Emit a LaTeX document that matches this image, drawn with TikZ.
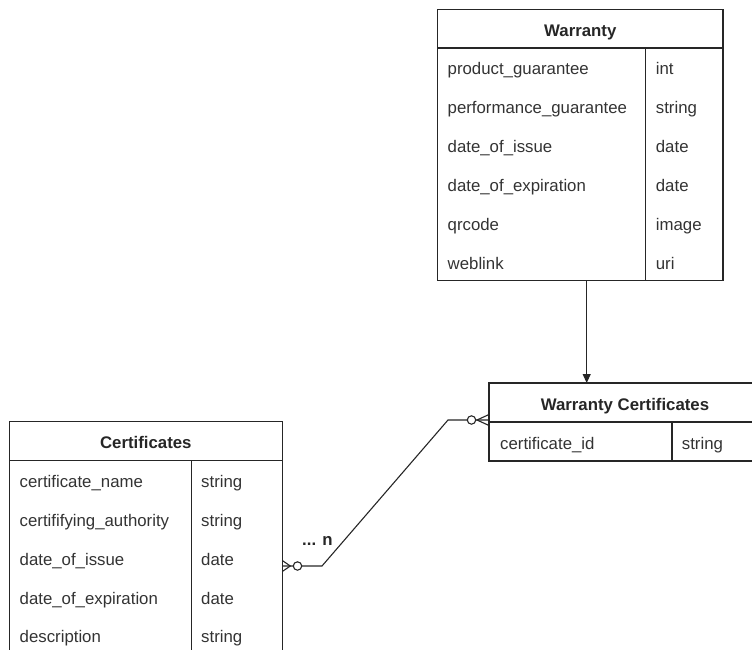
\documentclass[tikz,border=0pt]{standalone}
\usepackage{fontspec}
\setmainfont{Liberation Sans}
\usetikzlibrary{arrows.meta,calc}
\begin{document}
\begin{tikzpicture}[x=1pt,y=-1pt,
  box/.style={draw=black!85, line width=1.1pt, inner sep=0pt, outer sep=0pt, anchor=north west},
  ttl/.style={font=\fontsize{16.8}{20}\selectfont\bfseries, text=black!85, anchor=base, inner sep=0pt},
  attr/.style={font=\fontsize{16.8}{20}\selectfont, text=black!80, anchor=base west, inner sep=0pt},
  link/.style={draw=black!85, line width=1.1pt},
]
\useasboundingbox (0,0) rectangle (752,650);

% ---- Warranty table ----
\node[box, minimum width=285.3pt, minimum height=38.5pt] (wh) at (437.7,9.5) {};
\node[box, minimum width=285.3pt, minimum height=232.8pt] (wb) at (437.7,48) {};
\draw[link] ([xshift=208pt]wb.north west) -- ([xshift=208pt]wb.south west);
\node[ttl] (wt) at (580.3,36.7) {Warranty};
\node[attr] (w1) at (447.5,75)    {product\_guarantee};
\node[attr] (w2) at (447.5,113.8) {performance\_guarantee};
\node[attr] (w3) at (447.5,152.6) {date\_of\_issue};
\node[attr] (w4) at (447.5,191.4) {date\_of\_expiration};
\node[attr] (w5) at (447.5,230.2) {qrcode};
\node[attr] (w6) at (447.5,269)   {weblink};
\node[attr] (v1) at (655.7,75)    {int};
\node[attr] (v2) at (655.7,113.8) {string};
\node[attr] (v3) at (655.7,152.6) {date};
\node[attr] (v4) at (655.7,191.4) {date};
\node[attr] (v5) at (655.7,230.2) {image};
\node[attr] (v6) at (655.7,269)   {uri};

% ---- Warranty Certificates table ----
\node[box, minimum width=272pt, minimum height=39pt] (wch) at (489,383) {};
\node[box, minimum width=272pt, minimum height=39pt] (wcb) at (489,422) {};
\draw[link] ([xshift=183pt]wcb.north west) -- ([xshift=183pt]wcb.south west);
\node[ttl] (wct) at (625,410) {Warranty Certificates};
\node[attr] (wc1) at (500,449) {certificate\_id};
\node[attr] (wv1) at (681.7,449) {string};

% ---- Certificates table ----
\node[box, minimum width=273pt, minimum height=39pt] (ch) at (9.3,421.7) {};
\node[box, minimum width=273pt, minimum height=194pt] (cb) at (9.3,460.7) {};
\draw[link] ([xshift=182.4pt]cb.north west) -- ([xshift=182.4pt]cb.south west);
\node[ttl] (ct) at (145.8,448.3) {Certificates};
\node[attr] (c1) at (19.5,487.7) {certificate\_name};
\node[attr] (c2) at (19.5,526.5) {certififying\_authority};
\node[attr] (c3) at (19.5,565.3) {date\_of\_issue};
\node[attr] (c4) at (19.5,604.1) {date\_of\_expiration};
\node[attr] (c5) at (19.5,642.9) {description};
\node[attr] (d1) at (201,487.7) {string};
\node[attr] (d2) at (201,526.5) {string};
\node[attr] (d3) at (201,565.3) {date};
\node[attr] (d4) at (201,604.1) {date};
\node[attr] (d5) at (201,642.9) {string};

% ---- Warranty -> Warranty Certificates ----
\draw[link, -{Triangle[length=9pt,width=8pt]}]
  ([xshift=6.35pt]wb.south) -- ([xshift=-38.3pt]wch.north);

% ---- Certificates (zero or many) -- (zero or many) Warranty Certificates ----
\coordinate (cport) at ([yshift=-105.3pt]cb.north east);
\coordinate (wport) at ([yshift=2pt]wcb.north west);
\draw[link] (cport) -- ($(cport)+(39.7,0)$) -- ($(wport)+(-41,0)$) -- (wport);
\draw[link] ([yshift=5.5pt]cport) -- ++(8,5.5) -- ([yshift=-5.5pt]cport);
\draw[link, fill=white] ($(cport)+(15.2,0)$) circle[radius=4.2pt];
\draw[link] ([yshift=5.5pt]wport) -- ++(-12,5.5) -- ([yshift=-5.5pt]wport);
\draw[link, fill=white] ($(wport)+(-17.5,0)$) circle[radius=4.2pt];
\node[ttl, anchor=base west] (mult) at (302,545) {... n};
\end{tikzpicture}
\end{document}
